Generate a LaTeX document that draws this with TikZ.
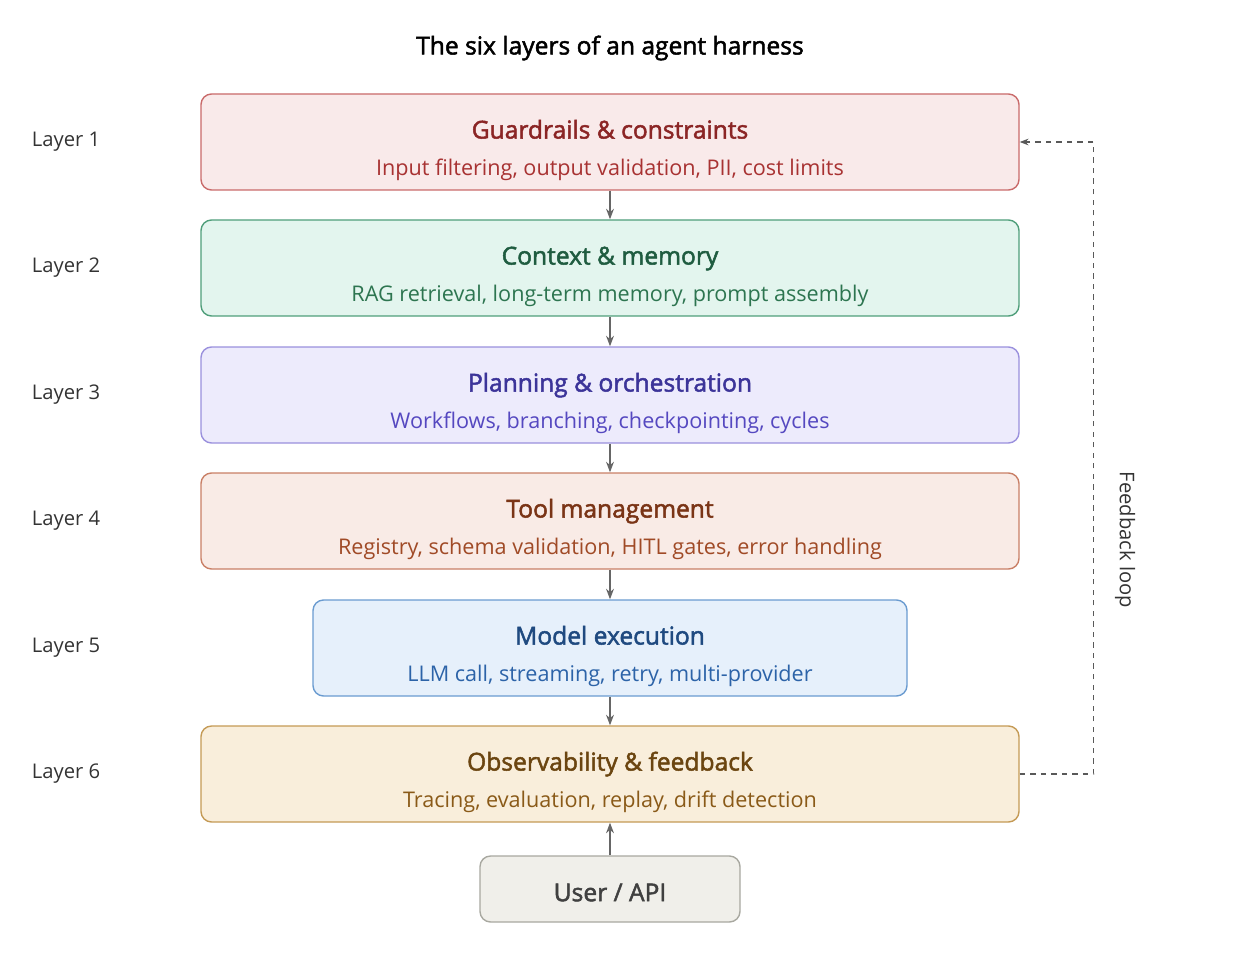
\documentclass[tikz,border=0pt]{standalone}
\usepackage{fontspec}
\setmainfont{Open Sans}
\newfontfamily\semib[FakeBold=2]{Open Sans}
\usetikzlibrary{arrows.meta}
\definecolor{rfill}{HTML}{F9EAEA}\definecolor{rline}{HTML}{C96A6A}\definecolor{rhead}{HTML}{8B2525}\definecolor{rsub}{HTML}{A83232}
\definecolor{gfill}{HTML}{E3F5EE}\definecolor{gline}{HTML}{4F9E7A}\definecolor{ghead}{HTML}{1F5C40}\definecolor{gsub}{HTML}{2D7550}
\definecolor{pfill}{HTML}{EDEBFC}\definecolor{pline}{HTML}{9A90DD}\definecolor{phead}{HTML}{3C3499}\definecolor{psub}{HTML}{5548C0}
\definecolor{ofill}{HTML}{F9EBE6}\definecolor{oline}{HTML}{C97F66}\definecolor{ohead}{HTML}{7A3416}\definecolor{osub}{HTML}{A04A26}
\definecolor{bfill}{HTML}{E6F0FB}\definecolor{bline}{HTML}{6A9BD0}\definecolor{bhead}{HTML}{1F4A80}\definecolor{bsub}{HTML}{2C63A8}
\definecolor{yfill}{HTML}{F9EEDB}\definecolor{yline}{HTML}{C49A55}\definecolor{yhead}{HTML}{6B4510}\definecolor{ysub}{HTML}{8A5A18}
\definecolor{ufill}{HTML}{F0EFEA}\definecolor{uline}{HTML}{A8A8A0}
\newcommand\lift{\rule{0pt}{20pt}}
\begin{document}
\begin{tikzpicture}[line width=0.8pt,
  layer/.style={rectangle,rounded corners=6pt,minimum width=16.36cm,minimum height=1.92cm,align=center,font=\fontsize{12.3}{17}\selectfont},
  lbl/.style={font=\fontsize{11.5}{13}\selectfont,text=black!80},
  flow/.style={-{Stealth[length=6pt]},draw=black!60}]
\useasboundingbox (0,0) rectangle (25,19.24);
\node(title) at (12.2,18.28){\fontsize{14}{16}\semib The six layers of an agent harness};

\node[layer,draw=rline,fill=rfill] (guard) at (12.2,16.4){\lift\textcolor{rhead}{\fontsize{14}{18}\semib Guardrails \& constraints}\\[4pt]\textcolor{rsub}{Input filtering, output validation, PII, cost limits}};
\node[layer,draw=gline,fill=gfill] (context) at (12.2,13.88){\lift\textcolor{ghead}{\fontsize{14}{18}\semib Context \& memory}\\[4pt]\textcolor{gsub}{RAG retrieval, long-term memory, prompt assembly}};
\node[layer,draw=pline,fill=pfill] (plan) at (12.2,11.34){\lift\textcolor{phead}{\fontsize{14}{18}\semib Planning \& orchestration}\\[4pt]\textcolor{psub}{Workflows, branching, checkpointing, cycles}};
\node[layer,draw=oline,fill=ofill] (tool) at (12.2,8.82){\lift\textcolor{ohead}{\fontsize{14}{18}\semib Tool management}\\[4pt]\textcolor{osub}{Registry, schema validation, HITL gates, error handling}};
\node[layer,draw=bline,fill=bfill,minimum width=11.88cm] (model) at (12.2,6.28){\lift\textcolor{bhead}{\fontsize{14}{18}\semib Model execution}\\[4pt]\textcolor{bsub}{LLM call, streaming, retry, multi-provider}};
\node[layer,draw=yline,fill=yfill] (observe) at (12.2,3.76){\lift\textcolor{yhead}{\fontsize{14}{18}\semib Observability \& feedback}\\[4pt]\textcolor{ysub}{Tracing, evaluation, replay, drift detection}};
\node[layer,draw=uline,fill=ufill,minimum width=5.2cm,minimum height=1.32cm,font=\fontsize{14}{18}\semib,text=black!75] (user) at (12.2,1.46){\rule{0pt}{14pt}User / API};

\node[lbl] (l1) at (1.32,16.4){Layer 1};
\node[lbl] (l2) at (1.32,13.88){Layer 2};
\node[lbl] (l3) at (1.32,11.34){Layer 3};
\node[lbl] (l4) at (1.32,8.82){Layer 4};
\node[lbl] (l5) at (1.32,6.28){Layer 5};
\node[lbl] (l6) at (1.32,3.76){Layer 6};

\draw[flow] (guard) to (context);
\draw[flow] (context) to (plan);
\draw[flow] (plan) to (tool);
\draw[flow] (tool) to (model);
\draw[flow] (model) to (observe);
\draw[flow] (user) to (observe);

\draw[dashed,draw=black!65,-{Stealth[length=5pt,open]}] (observe.east) -- ++(1.48,0) coordinate (fb) |- (guard.east);
\node[lbl,rotate=-90] (fblabel) at (22.5,8.44){Feedback loop};
\end{tikzpicture}
\end{document}
